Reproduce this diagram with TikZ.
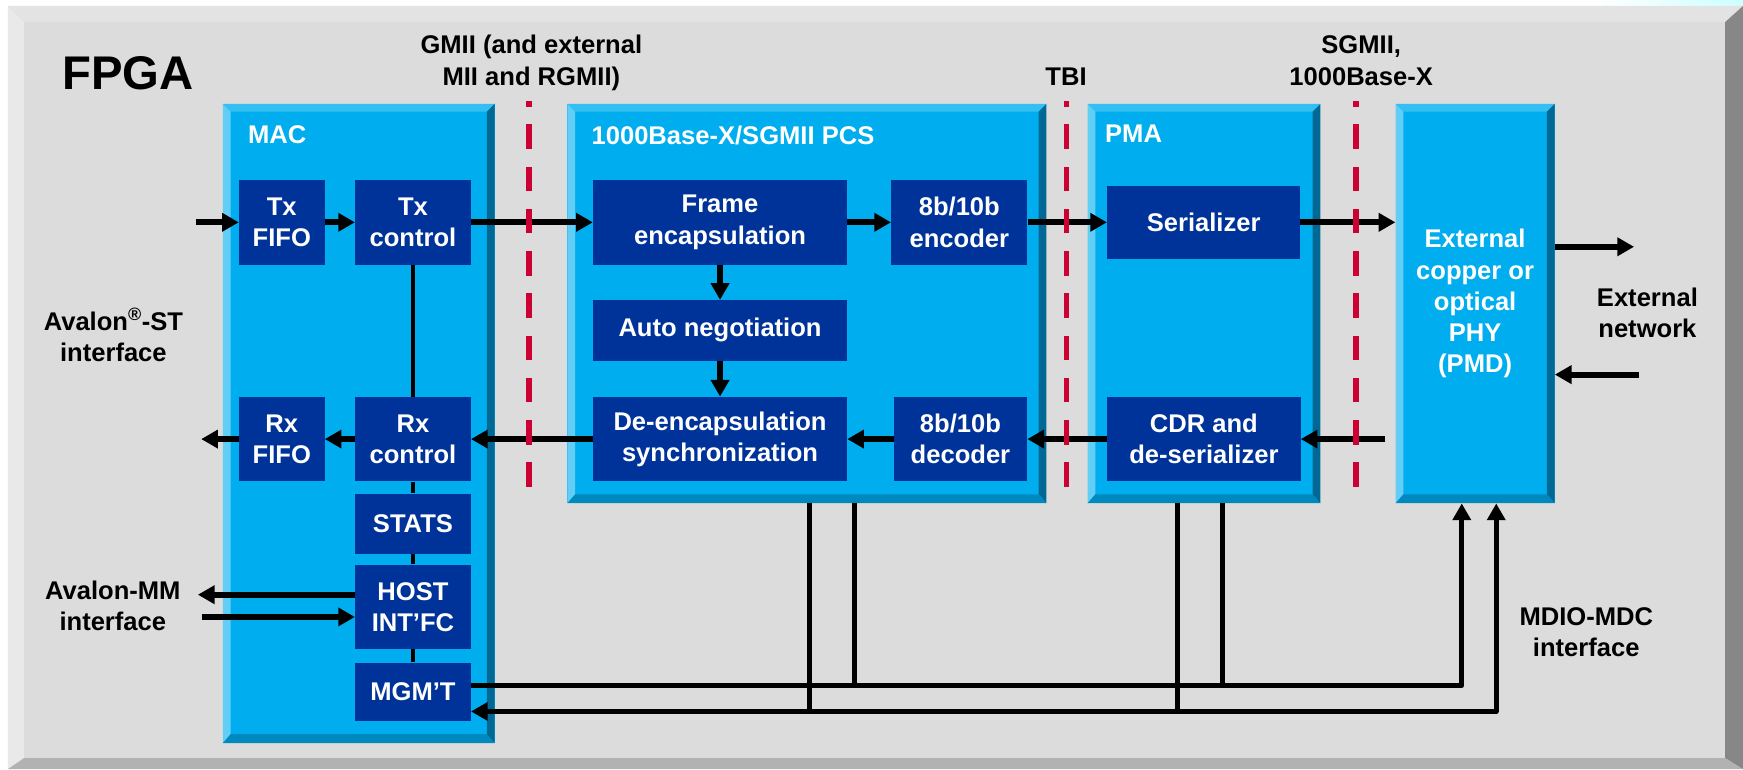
\documentclass[tikz,border=0pt]{standalone}
\usepackage{fontspec}
\setmainfont{Liberation Sans}
\usetikzlibrary{arrows.meta,fit}

\definecolor{pnlface}{RGB}{220,220,220}
\definecolor{pnltop}{RGB}{227,227,227}
\definecolor{pnlleft}{RGB}{233,233,233}
\definecolor{pnlright}{RGB}{135,135,135}
\definecolor{pnlbot}{RGB}{178,178,178}
\definecolor{bluefc}{RGB}{0,174,239}
\definecolor{bluetp}{RGB}{51,191,242}
\definecolor{bluelf}{RGB}{98,206,246}
\definecolor{bluert}{RGB}{0,104,148}
\definecolor{bluebt}{RGB}{0,137,190}
\definecolor{darkblue}{RGB}{0,51,153}
\definecolor{cutred}{RGB}{204,0,51}

\newcommand{\boxfont}{\fontsize{23}{28}\selectfont\bfseries}

% light blue block with bevelled edges: name, x1, y1, x2, y2
\newcommand{\bluebox}[5]{%
  \fill[bluefc] (#2,#3) rectangle (#4,#5);
  \fill[bluetp] (#2,#3) -- (#4,#3) -- ({#4-7},{#3+7}) -- ({#2+7},{#3+7}) -- cycle;
  \fill[bluelf] (#2,#3) -- ({#2+7},{#3+7}) -- ({#2+7},{#5-8}) -- (#2,#5) -- cycle;
  \fill[bluert] (#4,#3) -- (#4,#5) -- ({#4-7},{#5-8}) -- ({#4-7},{#3+7}) -- cycle;
  \fill[bluebt] (#2,#5) -- (#4,#5) -- ({#4-7},{#5-8}) -- ({#2+7},{#5-8}) -- cycle;
  \node[inner sep=0pt, fit={(#2,#3) (#4,#5)}] (#1) {};
}

\begin{document}
\begin{tikzpicture}[x=1pt,y=-1pt,
  subblk/.style={fill=darkblue, text=white, font=\boxfont, align=center, inner sep=0pt},
  lbl/.style={font=\boxfont, align=center, inner sep=0pt, anchor=base},
  blktitle/.style={font=\boxfont, text=white, inner sep=0pt, anchor=base west},
  arr/.style={line width=5.5pt, -{Triangle[length=15pt,width=16pt]}},
  bus/.style={line width=4.3pt, line join=round},
  iface/.style={line width=5pt, draw=cutred, dash pattern=on 22pt off 16pt}]
\useasboundingbox (0,0) rectangle (1568,692);
\fill[white] (0,0) rectangle (1568,692);
\shade[left color=white, right color=cyan!20] (1440,0) rectangle (1568,5.4);

% FPGA panel
\fill[pnlface] (7,5.4) rectangle (1568,692);
\fill[pnltop] (7,5.4) -- (1568,5.4) -- (1552,19.8) -- (21.6,19.8) -- cycle;
\fill[pnlleft] (7,5.4) -- (21.6,19.8) -- (21.6,682) -- (7,692) -- cycle;
\fill[pnlright] (1568,5.4) -- (1568,692) -- (1552,682) -- (1552,19.8) -- cycle;
\fill[pnlbot] (7,692) -- (21.6,682) -- (1552,682) -- (1568,692) -- cycle;
\node[anchor=base west, inner sep=0pt, font=\fontsize{42.5}{50}\selectfont\bfseries] (fpga) at (56,80.4) {FPGA};

\bluebox{mac}{200.5}{93.5}{445}{668.5}
\bluebox{pcs}{510.4}{93.5}{941.4}{452.7}
\bluebox{pma}{978.4}{93.5}{1187.8}{452.7}
\bluebox{phy}{1255.5}{93.5}{1398.5}{452.7}

\node[blktitle] (mactitle) at (223,129) {MAC};
\node[blktitle] (pcstitle) at (532,130) {1000Base-X/SGMII PCS};
\node[blktitle] (pmatitle) at (994,128) {PMA};
\node[font=\boxfont, text=white, align=center, inner sep=0pt] (phytext) at (phy) {External\\copper or\\optical\\PHY\\(PMD)};

% MAC
\node[subblk, minimum width=77pt, minimum height=76pt] (txfifo) at (253.5,200) {Tx\\FIFO};
\node[subblk, minimum width=104pt, minimum height=76pt] (txctl) at (371.5,200) {Tx\\control};
\node[subblk, minimum width=77pt, minimum height=76pt] (rxfifo) at (253.5,395) {Rx\\FIFO};
\node[subblk, minimum width=104pt, minimum height=76pt] (rxctl) at (371.5,395) {Rx\\control};
\node[subblk, minimum width=104pt, minimum height=54pt] (stats) at (371.5,471) {STATS};
\node[subblk, minimum width=104pt, minimum height=76pt] (host) at (371.5,546) {HOST\\INT'FC};
\node[subblk, minimum width=104pt, minimum height=53pt] (mgmt) at (371.5,622.5) {MGM'T};
% PCS
\node[subblk, minimum width=228.5pt, minimum height=76pt] (frame) at (647.75,200) {Frame\\encapsulation};
\node[subblk, minimum width=228.5pt, minimum height=54.5pt] (autoneg) at (647.75,297.25) {Auto negotiation};
\node[subblk, minimum width=228.5pt, minimum height=76pt] (deenc) at (647.75,395) {De-encapsulation\\synchronization};
\node[subblk, minimum width=122.5pt, minimum height=76pt] (enc) at (863,200) {8b/10b\\encoder};
\node[subblk, minimum width=120pt, minimum height=76pt] (dec) at (864,395) {8b/10b\\decoder};
% PMA
\node[subblk, minimum width=173.6pt, minimum height=65.4pt] (ser) at (1082.8,200) {Serializer};
\node[subblk, minimum width=174pt, minimum height=76pt] (cdr) at (1083,395) {CDR and\\de-serializer};

% labels (base = last line)
\node[lbl] (gmii) at (478,76.5) {GMII (and external\\MII and RGMII)};
\node[lbl] (tbi) at (959,76.5) {TBI};
\node[lbl] (sgmii) at (1224.5,76.5) {SGMII,\\1000Base-X};
\node[lbl] (avst) at (102,325) {Avalon\textsuperscript{\textregistered}-ST\\interface};
\node[lbl] (avmm) at (101.5,567) {Avalon-MM\\interface};
\node[lbl] (extnet) at (1482,304) {External\\network};
\node[lbl] (mdiolbl) at (1427,591) {MDIO-MDC\\interface};

\coordinate (stin) at (176,200);
\coordinate (stout) at (181,395);
\coordinate (mmout) at (178,535);
\coordinate (mmin) at (181.5,555);
\coordinate (netout) at (1470,222);
\coordinate (netin) at (1474,337);

% transmit
\draw[arr] (stin) -- (txfifo);
\draw[arr] (txfifo) -- (txctl);
\draw[arr] (txctl) -- (frame);
\draw[arr] (frame) -- (enc);
\draw[arr] (enc) -- (ser);
\draw[arr] (ser) -- (ser -| phy.west);
\draw[arr] (netout -| phy.east) -- (netout);
% receive
\draw[arr] (netin) -- (netin -| phy.east);
\draw[arr] ([xshift=-9pt]phy.west |- cdr) -- (cdr);
\draw[arr] (cdr) -- (dec);
\draw[arr] (dec) -- (deenc);
\draw[arr] (deenc) -- (rxctl);
\draw[arr] (rxctl) -- (rxfifo);
\draw[arr] (rxfifo) -- (stout);
\draw[arr] (frame) -- (autoneg);
\draw[arr] (autoneg) -- (deenc);
% host interface
\draw[arr] ([yshift=11pt]host.west) -- (mmout);
\draw[arr] (mmin) -- ([yshift=-9pt]host.west);
\draw[line width=3.5pt] (txctl) -- (rxctl) (rxctl) -- (stats) (stats) -- (host) (host) -- (mgmt);

% management bus
\coordinate (mdcline) at ([yshift=5.5pt]mgmt.east);
\coordinate (mdioline) at ([yshift=-17.5pt]mgmt.east);
\coordinate (tap1) at (728,640);
\coordinate (tap2) at (769,617);
\coordinate (tap3) at (1059.5,640);
\coordinate (tap4) at (1100,617);
\draw[bus, -{Triangle[length=15pt,width=16pt]}] (mdcline) -| ([xshift=-12pt]phy.south);
\draw[bus, {Triangle[length=15pt,width=16pt]}-{Triangle[length=15pt,width=16pt]}] (mdioline) -| ([xshift=19pt]phy.south);
\draw[bus] (tap1 |- pcs.south) -- (tap1 |- mdioline);
\draw[bus] (tap2 |- pcs.south) -- (tap2 |- mdcline);
\draw[bus] (tap3 |- pma.south) -- (tap3 |- mdioline);
\draw[bus] (tap4 |- pma.south) -- (tap4 |- mdcline);

% interface cuts
\foreach \x in {476,959.5,1220}
  \draw[iface] (\x,438) -- (\x,91);
\end{tikzpicture}
\end{document}
